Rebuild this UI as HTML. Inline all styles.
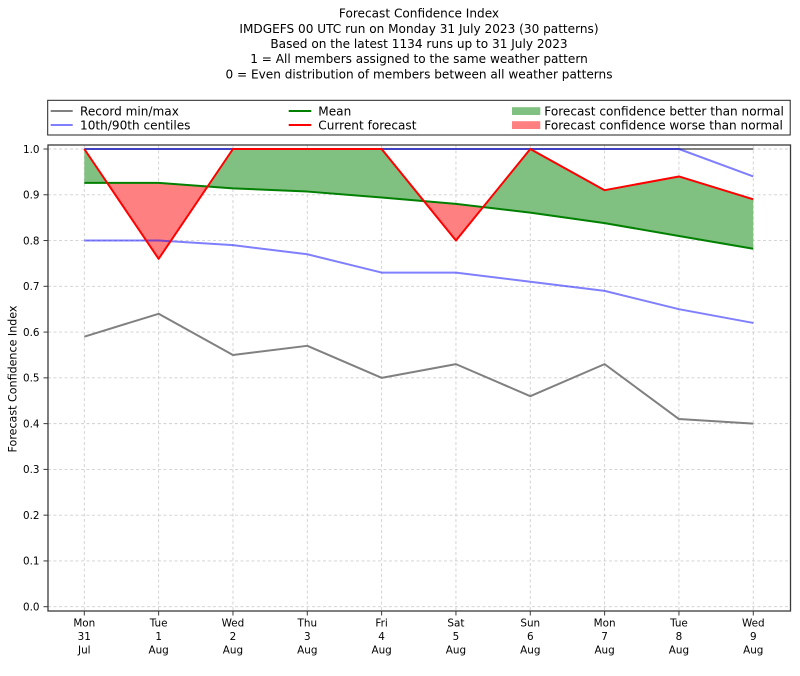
<!DOCTYPE html>
<html><head><meta charset="utf-8"><style>
html,body{margin:0;padding:0;background:#fff;}
svg{display:block;font-family:"DejaVu Sans","Liberation Sans",sans-serif;}
</style></head><body>
<svg width="800" height="676" viewBox="0 0 800 676" xmlns="http://www.w3.org/2000/svg">
<rect width="800" height="676" fill="#fff"/>
<!-- title -->
<g font-size="12.1" text-anchor="middle" fill="#000">
<text x="419" y="17.6">Forecast Confidence Index</text>
<text x="419" y="32.8">IMDGEFS 00 UTC run on Monday 31 July 2023 (30 patterns)</text>
<text x="419" y="48">Based on the latest 1134 runs up to 31 July 2023</text>
<text x="419" y="63.2">1 = All members assigned to the same weather pattern</text>
<text x="419" y="78.4">0 = Even distribution of members between all weather patterns</text>
</g>
<!-- legend -->
<rect x="47.7" y="100.3" width="742.5" height="34.7" fill="#fff" stroke="#222" stroke-width="1"/>
<g stroke-width="2">
<line x1="50.7" y1="111" x2="72.7" y2="111" stroke="#808080"/>
<line x1="50.7" y1="125" x2="72.7" y2="125" stroke="#7f7fff"/>
<line x1="288.7" y1="111" x2="311.3" y2="111" stroke="#008000"/>
<line x1="288.7" y1="125" x2="311.3" y2="125" stroke="#ff0000"/>
</g>
<rect x="512" y="107.2" width="28.3" height="7.8" fill="#80c080"/>
<rect x="512" y="121.2" width="28.3" height="7.8" fill="#ff8080"/>
<g font-size="12.1" fill="#000">
<text x="80" y="115.4">Record min/max</text>
<text x="80" y="129.4">10th/90th centiles</text>
<text x="318.3" y="115.4">Mean</text>
<text x="318.3" y="129.4">Current forecast</text>
<text x="544.3" y="115.4">Forecast confidence better than normal</text>
<text x="544.3" y="129.4">Forecast confidence worse than normal</text>
</g>
<!-- grid -->
<g stroke="#cfcfcf" stroke-width="0.9" stroke-dasharray="3,2.5" fill="none">
<line x1="48" y1="149" x2="790.5" y2="149"/>
<line x1="48" y1="194.77" x2="790.5" y2="194.77"/>
<line x1="48" y1="240.54" x2="790.5" y2="240.54"/>
<line x1="48" y1="286.31" x2="790.5" y2="286.31"/>
<line x1="48" y1="332.08" x2="790.5" y2="332.08"/>
<line x1="48" y1="377.85" x2="790.5" y2="377.85"/>
<line x1="48" y1="423.62" x2="790.5" y2="423.62"/>
<line x1="48" y1="469.39" x2="790.5" y2="469.39"/>
<line x1="48" y1="515.16" x2="790.5" y2="515.16"/>
<line x1="48" y1="560.93" x2="790.5" y2="560.93"/>
<line x1="48" y1="606.7" x2="790.5" y2="606.7"/>
<line x1="84.3" y1="145" x2="84.3" y2="611"/>
<line x1="158.63" y1="145" x2="158.63" y2="611"/>
<line x1="232.96" y1="145" x2="232.96" y2="611"/>
<line x1="307.29" y1="145" x2="307.29" y2="611"/>
<line x1="381.62" y1="145" x2="381.62" y2="611"/>
<line x1="455.95" y1="145" x2="455.95" y2="611"/>
<line x1="530.28" y1="145" x2="530.28" y2="611"/>
<line x1="604.61" y1="145" x2="604.61" y2="611"/>
<line x1="678.94" y1="145" x2="678.94" y2="611"/>
<line x1="753.27" y1="145" x2="753.27" y2="611"/>
</g>
<!-- fills -->
<g fill="#80c080" stroke="none">
<polygon points="84.3,149 107.22,182.87 84.3,182.87"/>
<polygon points="207.59,186.48 232.96,149 307.29,149 381.62,149 423.98,201.17 381.62,197.51 307.29,191.56 232.96,188.36"/>
<polygon points="483.10,207.1 530.28,149 604.61,190.19 678.94,176.46 753.27,199.35 753.27,248.78 678.94,235.96 604.61,223.15 530.28,212.62"/>
</g>
<g fill="#ff8080" stroke="none">
<polygon points="107.22,182.87 158.63,258.85 207.59,186.48 158.63,182.87"/>
<polygon points="423.98,201.17 455.95,240.54 483.10,207.1 455.95,203.92"/>
</g>
<!-- series -->
<g fill="none" stroke-width="2" stroke-linejoin="round">
<polyline stroke="#808080" points="84.3,149 753.27,149"/>
<polyline stroke="#808080" points="84.3,336.66 158.63,313.77 232.96,354.97 307.29,345.81 381.62,377.85 455.95,364.12 530.28,396.15 604.61,364.12 678.94,419.04 753.27,423.62"/>
<polyline stroke="#0000ff" stroke-opacity="0.5" points="84.3,149 158.63,149 232.96,149 307.29,149 381.62,149 455.95,149 530.28,149 604.61,149 678.94,149 753.27,176.46"/>
<polyline stroke="#0000ff" stroke-opacity="0.5" points="84.3,240.54 158.63,240.54 232.96,245.12 307.29,254.27 381.62,272.58 455.95,272.58 530.28,281.73 604.61,290.89 678.94,309.2 753.27,322.93"/>
<polyline stroke="#008000" points="84.3,182.87 158.63,182.87 232.96,188.36 307.29,191.56 381.62,197.51 455.95,203.92 530.28,212.62 604.61,223.15 678.94,235.96 753.27,248.78"/>
<polyline stroke="#ff0000" points="84.3,149 158.63,258.85 232.96,149 307.29,149 381.62,149 455.95,240.54 530.28,149 604.61,190.19 678.94,176.46 753.27,199.35"/>
</g>
<!-- spines -->
<rect x="48" y="145" width="742.5" height="466" fill="none" stroke="#3a3a3a" stroke-width="1.3"/>
<!-- y ticks -->
<g stroke="#3a3a3a" stroke-width="1">
<line x1="43.5" y1="149" x2="48" y2="149"/>
<line x1="43.5" y1="194.77" x2="48" y2="194.77"/>
<line x1="43.5" y1="240.54" x2="48" y2="240.54"/>
<line x1="43.5" y1="286.31" x2="48" y2="286.31"/>
<line x1="43.5" y1="332.08" x2="48" y2="332.08"/>
<line x1="43.5" y1="377.85" x2="48" y2="377.85"/>
<line x1="43.5" y1="423.62" x2="48" y2="423.62"/>
<line x1="43.5" y1="469.39" x2="48" y2="469.39"/>
<line x1="43.5" y1="515.16" x2="48" y2="515.16"/>
<line x1="43.5" y1="560.93" x2="48" y2="560.93"/>
<line x1="43.5" y1="606.7" x2="48" y2="606.7"/>
<line x1="84.3" y1="611" x2="84.3" y2="615.5"/>
<line x1="158.63" y1="611" x2="158.63" y2="615.5"/>
<line x1="232.96" y1="611" x2="232.96" y2="615.5"/>
<line x1="307.29" y1="611" x2="307.29" y2="615.5"/>
<line x1="381.62" y1="611" x2="381.62" y2="615.5"/>
<line x1="455.95" y1="611" x2="455.95" y2="615.5"/>
<line x1="530.28" y1="611" x2="530.28" y2="615.5"/>
<line x1="604.61" y1="611" x2="604.61" y2="615.5"/>
<line x1="678.94" y1="611" x2="678.94" y2="615.5"/>
<line x1="753.27" y1="611" x2="753.27" y2="615.5"/>
</g>
<g font-size="10.4" fill="#000" text-anchor="end">
<text x="39.5" y="152.8">1.0</text>
<text x="39.5" y="198.6">0.9</text>
<text x="39.5" y="244.3">0.8</text>
<text x="39.5" y="290.1">0.7</text>
<text x="39.5" y="335.9">0.6</text>
<text x="39.5" y="381.6">0.5</text>
<text x="39.5" y="427.4">0.4</text>
<text x="39.5" y="473.2">0.3</text>
<text x="39.5" y="518.9">0.2</text>
<text x="39.5" y="564.7">0.1</text>
<text x="39.5" y="610.5">0.0</text>
</g>
<text transform="translate(16.5,379) rotate(-90)" font-size="11.1" text-anchor="middle" fill="#000">Forecast Confidence Index</text>
<!-- x tick labels -->
<g font-size="10.4" fill="#000" text-anchor="middle">
<text x="84.3" y="626.7">Mon</text><text x="84.3" y="640">31</text><text x="84.3" y="653.3">Jul</text>
<text x="158.63" y="626.7">Tue</text><text x="158.63" y="640">1</text><text x="158.63" y="653.3">Aug</text>
<text x="232.96" y="626.7">Wed</text><text x="232.96" y="640">2</text><text x="232.96" y="653.3">Aug</text>
<text x="307.29" y="626.7">Thu</text><text x="307.29" y="640">3</text><text x="307.29" y="653.3">Aug</text>
<text x="381.62" y="626.7">Fri</text><text x="381.62" y="640">4</text><text x="381.62" y="653.3">Aug</text>
<text x="455.95" y="626.7">Sat</text><text x="455.95" y="640">5</text><text x="455.95" y="653.3">Aug</text>
<text x="530.28" y="626.7">Sun</text><text x="530.28" y="640">6</text><text x="530.28" y="653.3">Aug</text>
<text x="604.61" y="626.7">Mon</text><text x="604.61" y="640">7</text><text x="604.61" y="653.3">Aug</text>
<text x="678.94" y="626.7">Tue</text><text x="678.94" y="640">8</text><text x="678.94" y="653.3">Aug</text>
<text x="753.27" y="626.7">Wed</text><text x="753.27" y="640">9</text><text x="753.27" y="653.3">Aug</text>
</g>
</svg>
</body></html>
